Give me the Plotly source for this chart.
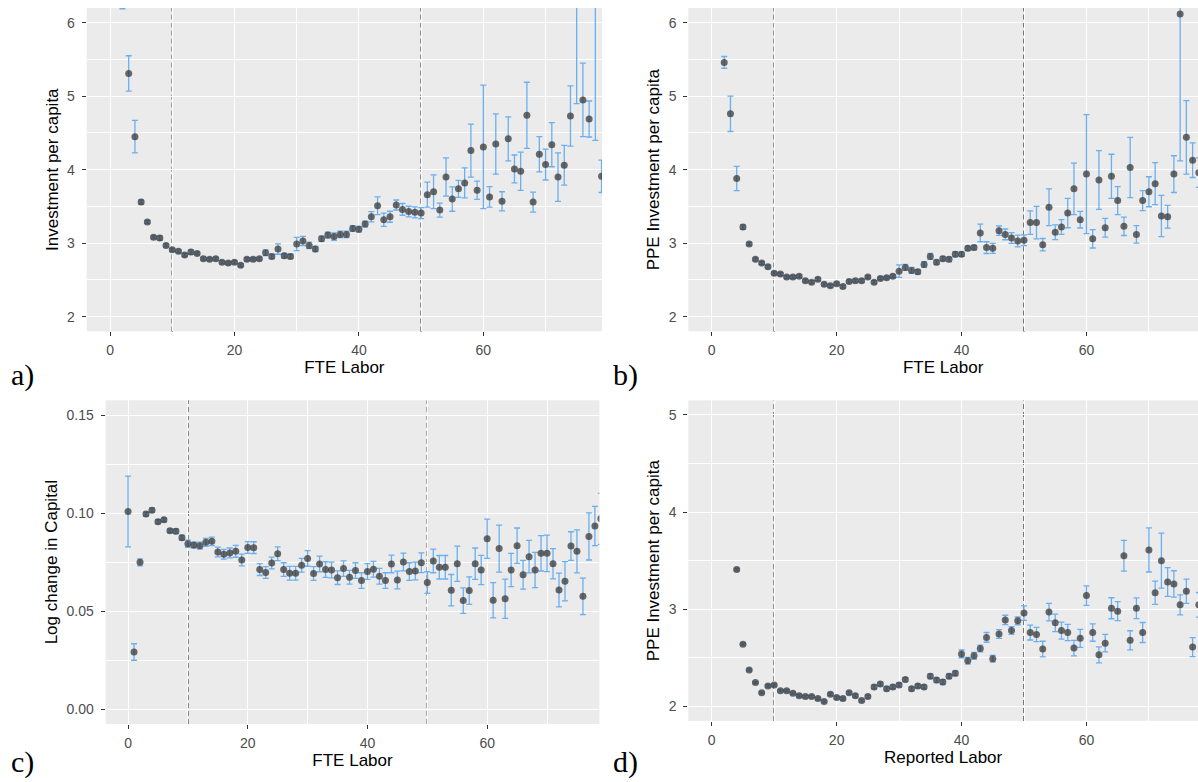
import plotly.graph_objects as go

# ---------------- data ----------------
# a) Investment per capita vs FTE Labor
a_x = list(range(2, 80))
a_y = [6.45, 5.31, 4.45, 3.56, 3.29, 3.08, 3.07, 2.97, 2.91, 2.89,
       2.84, 2.88, 2.86, 2.79, 2.78, 2.79, 2.74, 2.73, 2.74, 2.70,
       2.78, 2.78, 2.79, 2.87, 2.82, 2.92, 2.83, 2.82, 2.99, 3.03,
       2.97, 2.92, 3.06, 3.11, 3.09, 3.12, 3.12, 3.20, 3.19, 3.26,
       3.36, 3.51, 3.32, 3.36, 3.52, 3.46, 3.43, 3.42, 3.41, 3.66,
       3.70, 3.45, 3.90, 3.60, 3.74, 3.82, 4.26, 3.72, 4.31, 3.63,
       4.35, 3.57, 4.42, 4.01, 3.98, 4.74, 3.56, 4.21, 4.07, 4.34,
       3.90, 4.06, 4.73, 6.60, 4.95, 4.69, 6.50, 3.91]
a_err = [0.26, 0.24, 0.22, 0.03, 0.02, 0.02, 0.03, 0.02, 0.02, 0.02,
         0.02, 0.03, 0.02, 0.02, 0.02, 0.02, 0.02, 0.02, 0.02, 0.02,
         0.02, 0.02, 0.02, 0.04, 0.03, 0.07, 0.03, 0.03, 0.09, 0.064,
         0.045, 0.035, 0.035, 0.04, 0.05, 0.045, 0.045, 0.04, 0.04, 0.04,
         0.07, 0.12, 0.09, 0.075, 0.068, 0.08, 0.073, 0.075, 0.075, 0.17,
         0.23, 0.095, 0.26, 0.165, 0.116, 0.204, 0.36, 0.125, 0.84, 0.14,
         0.41, 0.13, 0.30, 0.19, 0.26, 0.45, 0.136, 0.24, 0.21, 0.30,
         0.33, 0.27, 0.41, 1.70, 0.50, 0.245, 2.10, 0.22]

# b) PPE Investment per capita vs FTE Labor
b_x = list(range(2, 79))
b_y = [5.46, 4.76, 3.88, 3.22, 2.99, 2.78, 2.73, 2.68, 2.59, 2.58,
       2.54, 2.54, 2.55, 2.49, 2.47, 2.51, 2.44, 2.42, 2.45, 2.41,
       2.48, 2.49, 2.49, 2.54, 2.47, 2.52, 2.53, 2.55, 2.62, 2.67,
       2.63, 2.61, 2.71, 2.82, 2.74, 2.79, 2.78, 2.85, 2.85, 2.93,
       2.94, 3.14, 2.94, 2.93, 3.17, 3.12, 3.07, 3.03, 3.04, 3.28,
       3.28, 2.98, 3.49, 3.15, 3.22, 3.41, 3.74, 3.32, 3.94, 3.06,
       3.86, 3.21, 3.91, 3.58, 3.23, 4.03, 3.12, 3.58, 3.70, 3.81,
       3.37, 3.36, 3.94, 6.12, 4.44, 4.13, 3.96]
b_err = [0.08, 0.24, 0.165, 0.03, 0.02, 0.02, 0.02, 0.02, 0.02, 0.02,
         0.02, 0.02, 0.02, 0.02, 0.02, 0.02, 0.02, 0.02, 0.02, 0.02,
         0.02, 0.02, 0.02, 0.02, 0.02, 0.02, 0.02, 0.02, 0.085, 0.04,
         0.04, 0.03, 0.04, 0.04, 0.03, 0.03, 0.03, 0.035, 0.03, 0.03,
         0.03, 0.12, 0.08, 0.068, 0.064, 0.073, 0.073, 0.08, 0.073, 0.16,
         0.22, 0.084, 0.25, 0.10, 0.10, 0.20, 0.35, 0.113, 0.81, 0.125,
         0.40, 0.127, 0.30, 0.19, 0.125, 0.41, 0.12, 0.136, 0.204, 0.286,
         0.28, 0.154, 0.25, 2.00, 0.50, 0.236, 0.20]

# c) Log change in Capital vs FTE Labor
c_x = list(range(0, 80))
c_y = [0.1008, 0.0292, 0.0749, 0.0995, 0.1015, 0.0956, 0.0966, 0.0910, 0.0907, 0.0875,
       0.0844, 0.0837, 0.0834, 0.0851, 0.0856, 0.0802, 0.0790, 0.0797, 0.0805, 0.0761,
       0.0825, 0.0824, 0.0712, 0.0697, 0.0746, 0.0793, 0.0712, 0.0693, 0.0693, 0.0734,
       0.0769, 0.0692, 0.0741, 0.0712, 0.0710, 0.0671, 0.0717, 0.0673, 0.0707, 0.0656,
       0.0702, 0.0714, 0.0678, 0.0656, 0.0741, 0.0659, 0.0751, 0.0702, 0.0705, 0.0747,
       0.0646, 0.0756, 0.0724, 0.0724, 0.0607, 0.0742, 0.0554, 0.0605, 0.0742, 0.0710,
       0.0869, 0.0556, 0.0819, 0.0563, 0.0710, 0.0834, 0.0686, 0.0778, 0.0710, 0.0795,
       0.0795, 0.0742, 0.0608, 0.0653, 0.0832, 0.0805, 0.0576, 0.0881, 0.0934, 0.0971]
c_err = [0.018, 0.0042, 0.0018, 0.001, 0.001, 0.001, 0.001, 0.001, 0.0012, 0.0012,
         0.0018, 0.0015, 0.0018, 0.002, 0.0022, 0.0025, 0.0025, 0.0025, 0.003, 0.003,
         0.003, 0.003, 0.003, 0.003, 0.003, 0.0035, 0.0035, 0.0035, 0.0035, 0.0035,
         0.004, 0.0035, 0.004, 0.004, 0.004, 0.0035, 0.004, 0.0035, 0.004, 0.004,
         0.004, 0.004, 0.004, 0.004, 0.0045, 0.0045, 0.0045, 0.0045, 0.0045, 0.005,
         0.0055, 0.006, 0.006, 0.006, 0.008, 0.009, 0.0065, 0.007, 0.008, 0.0075,
         0.010, 0.009, 0.012, 0.010, 0.0085, 0.009, 0.0073, 0.0083, 0.009, 0.009,
         0.0093, 0.0077, 0.0086, 0.010, 0.0073, 0.011, 0.0093, 0.012, 0.010, 0.013]

# d) PPE Investment per capita vs Reported Labor
d_x = list(range(4, 79))
d_y = [3.41, 2.64, 2.375, 2.245, 2.14, 2.21, 2.22, 2.16, 2.16, 2.135,
       2.11, 2.10, 2.10, 2.08, 2.05, 2.125, 2.09, 2.08, 2.14, 2.11,
       2.06, 2.10, 2.20, 2.23, 2.18, 2.20, 2.22, 2.275, 2.18, 2.21,
       2.20, 2.31, 2.27, 2.25, 2.31, 2.34, 2.54, 2.47, 2.52, 2.595,
       2.71, 2.49, 2.745, 2.89, 2.78, 2.88, 2.96, 2.76, 2.74, 2.59,
       2.97, 2.86, 2.78, 2.76, 2.60, 2.70, 3.14, 2.76, 2.53, 2.65,
       3.01, 2.98, 3.55, 2.68, 3.01, 2.76, 3.61, 3.17, 3.50, 3.28,
       3.26, 3.045, 3.185, 2.61, 3.045]
d_err = [0.012, 0.01, 0.01, 0.01, 0.01, 0.012, 0.012, 0.012, 0.012, 0.012,
         0.012, 0.012, 0.012, 0.012, 0.012, 0.015, 0.015, 0.015, 0.015, 0.015,
         0.015, 0.015, 0.02, 0.02, 0.02, 0.02, 0.02, 0.02, 0.02, 0.02,
         0.02, 0.025, 0.025, 0.025, 0.025, 0.025, 0.04, 0.035, 0.035, 0.035,
         0.05, 0.035, 0.045, 0.048, 0.04, 0.04, 0.075, 0.077, 0.074, 0.08,
         0.09, 0.09, 0.088, 0.083, 0.08, 0.093, 0.10, 0.09, 0.083, 0.09,
         0.108, 0.098, 0.158, 0.098, 0.106, 0.103, 0.227, 0.12, 0.283, 0.148,
         0.136, 0.103, 0.124, 0.098, 0.127]

x_ticks = [0, 20, 40, 60]
cutoffs = [10, 50]

# ---------------- styling ----------------
W, H = 1198, 782
BG = "#EBEBEB"
ERR = "#6AAFF0"
PT = "#3A3A3A"
FONT = "Liberation Sans"

def px_x(p):
    return p / W

def px_y(p):
    return 1 - p / H

panels = {
    "a": ((86.7, 602.0), (8.0, 331.4), [-3.75, 79.07], [1.8, 6.2], "FTE Labor", "Investment per capita"),
    "b": ((688.3, 1198.0), (8.0, 331.4), [-3.75, 77.86], [1.8, 6.2], "FTE Labor", "PPE Investment per capita"),
    "c": ((105.6, 599.4), (400.3, 724.0), [-3.75, 78.75], [-0.0075, 0.1575], "FTE Labor", "Log change in Capital"),
    "d": ((688.3, 1198.0), (400.4, 720.9), [-3.75, 77.86], [1.85, 5.15], "Reported Labor", "PPE Investment per capita"),
}
data = {"a": (a_x, a_y, a_err), "b": (b_x, b_y, b_err), "c": (c_x, c_y, c_err), "d": (d_x, d_y, d_err)}
yticks = {"a": ([2, 3, 4, 5, 6], 0.5, None), "b": ([2, 3, 4, 5, 6], 0.5, None),
          "c": ([0.0, 0.05, 0.10, 0.15], 0.025, ".2f"), "d": ([2, 3, 4, 5], 0.5, None)}

fig = go.Figure()
layout = dict(
    width=W, height=H,
    margin=dict(l=0, r=0, t=0, b=0),
    paper_bgcolor="white",
    plot_bgcolor=BG,
    showlegend=False,
    font=dict(family=FONT, color="#4D4D4D", size=14),
)
shapes = []
annotations = []

for i, key in enumerate(["a", "b", "c", "d"]):
    n = "" if i == 0 else str(i + 1)
    xd, yd, xr, yr, xl, yl = panels[key]
    xs, ys, es = data[key]
    fig.add_trace(go.Scatter(
        x=xs, y=ys, mode="markers",
        xaxis="x" + n, yaxis="y" + n,
        marker=dict(color=PT, size=7, opacity=0.75, line=dict(width=0)),
        error_y=dict(type="data", array=es, visible=True, color=ERR, thickness=1.3, width=3),
        cliponaxis=True,
    ))
    tv, minor_dt, fmt = yticks[key]
    layout["xaxis" + n] = dict(
        domain=[px_x(xd[0]), px_x(xd[1])], range=xr, anchor="y" + n,
        tickvals=x_ticks, ticks="outside", ticklen=4, tickcolor="#333333", tickwidth=1,
        showgrid=True, gridcolor="white", gridwidth=1.1, zeroline=False, showline=False,
        minor=dict(dtick=10, tick0=0, showgrid=True, gridcolor="white", gridwidth=0.55, ticks=""),
        tickfont=dict(size=14, color="#4D4D4D"), ticklabelstandoff=2,
        title=dict(text=xl, font=dict(size=17, color="black"), standoff=3),
    )
    ya = dict(
        domain=[px_y(yd[1]), px_y(yd[0])], range=yr, anchor="x" + n,
        tickvals=tv, ticks="outside", ticklen=4, tickcolor="#333333", tickwidth=1,
        showgrid=True, gridcolor="white", gridwidth=1.1, zeroline=False, showline=False,
        minor=dict(dtick=minor_dt, tick0=0, showgrid=True, gridcolor="white", gridwidth=0.55, ticks=""),
        tickfont=dict(size=14, color="#4D4D4D"), ticklabelstandoff=4,
        title=dict(text=yl, font=dict(size=17, color="black"), standoff=4),
    )
    if fmt:
        ya["tickformat"] = fmt
    layout["yaxis" + n] = ya
    for c in cutoffs:
        shapes.append(dict(type="line", xref="x" + n, yref="y" + n + " domain",
                           x0=c, x1=c, y0=0, y1=1, layer="below",
                           line=dict(color="#505050", width=1.5, dash="5px,3px")))

labels = [("a)", 9, 375), ("b)", 611, 375), ("c)", 9, 762), ("d)", 611, 762)]
for txt, lx, ly in labels:
    annotations.append(dict(text=txt, xref="paper", yref="paper", x=px_x(lx), y=px_y(ly),
                            xanchor="left", yanchor="middle", showarrow=False,
                            font=dict(family="Liberation Serif", size=30, color="black")))

layout["shapes"] = shapes
layout["annotations"] = annotations
fig.update_layout(**layout)
fig.write_html("out.html")
